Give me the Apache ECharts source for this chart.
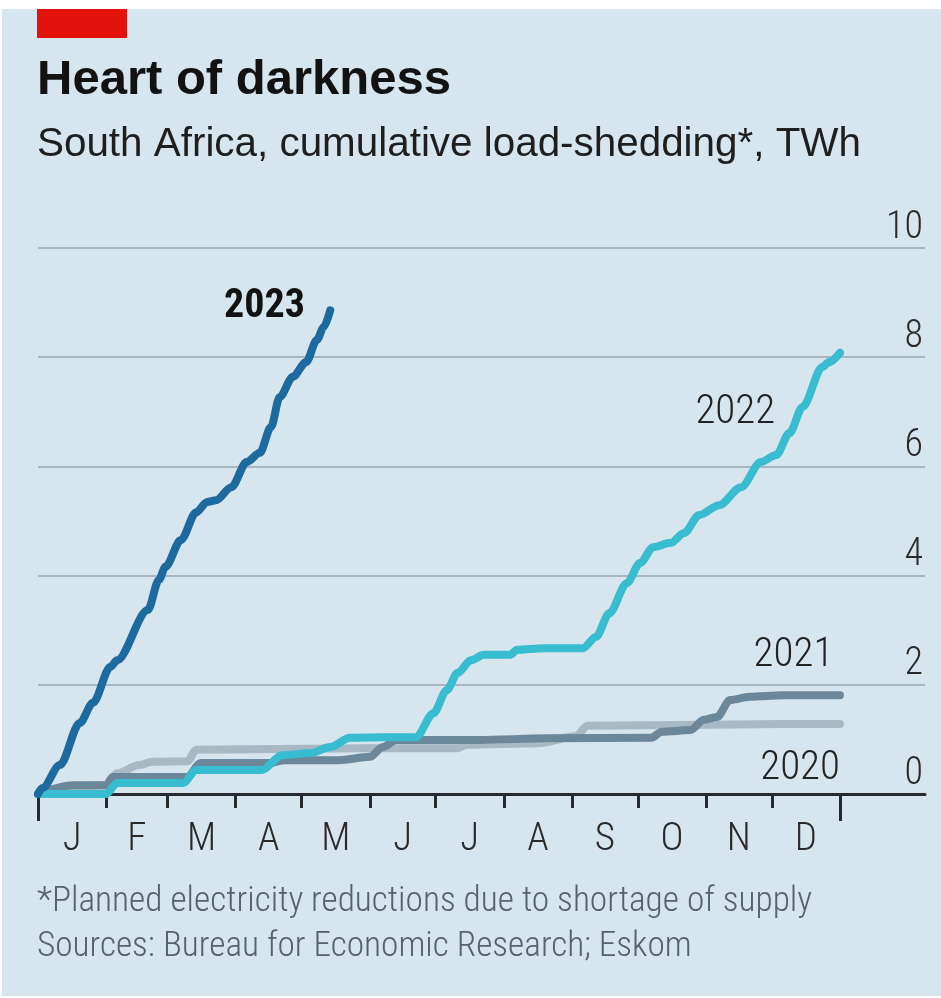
<!DOCTYPE html>
<html>
<head>
<meta charset="utf-8">
<script src="https://cdn.jsdelivr.net/npm/echarts@6/dist/echarts.min.js"></script>
<style>
  html, body { margin: 0; padding: 0; background: #ffffff; }
  #chart { width: 941px; height: 998px; }
</style>
</head>
<body>
<div id="chart"></div>
<script>
// Month axis: day-of-year boundaries and the letters shown between them
const monthLetters = ['J', 'F', 'M', 'A', 'M', 'J', 'J', 'A', 'S', 'O', 'N', 'D'];
const monthStarts = [0, 31, 59, 90, 120, 151, 181, 212, 243, 273, 304, 334, 365];
const yTickValues = [0, 2, 4, 6, 8, 10];

// Cumulative load-shedding, TWh, by day of year
const days2023 = [0, 2, 10, 19, 25, 33, 36, 50, 55, 58, 65, 72, 77, 81, 88, 95, 101, 106, 110, 116, 122, 127, 130, 133];
const twh2023 = [0, 0.11, 0.53, 1.30, 1.67, 2.33, 2.45, 3.37, 3.92, 4.16, 4.65, 5.16, 5.35, 5.38, 5.62, 6.08, 6.25, 6.72, 7.27, 7.64, 7.91, 8.32, 8.55, 8.86];

const days2022 = [0, 31, 36, 66, 72, 102, 111, 124, 133, 142, 156, 172, 180, 186, 191, 197, 203, 215, 218, 230, 248, 254, 260, 268, 274, 280, 288, 294, 301, 310, 320, 329, 336, 342, 348, 357, 360, 365];
const twh2022 = [0, 0, 0.2, 0.2, 0.44, 0.44, 0.71, 0.75, 0.86, 1.03, 1.04, 1.04, 1.48, 1.90, 2.22, 2.45, 2.55, 2.55, 2.64, 2.67, 2.67, 2.88, 3.31, 3.86, 4.23, 4.52, 4.60, 4.78, 5.11, 5.29, 5.62, 6.08, 6.21, 6.61, 7.09, 7.82, 7.91, 8.08];

const days2021 = [0, 16, 31, 34, 68, 74, 106, 112, 137, 151, 157, 163, 201, 232, 279, 284, 297, 303, 309, 315, 324, 339, 365];
const twh2021 = [0, 0.16, 0.16, 0.31, 0.31, 0.57, 0.57, 0.62, 0.62, 0.68, 0.86, 0.99, 0.99, 1.02, 1.03, 1.14, 1.17, 1.36, 1.41, 1.72, 1.78, 1.81, 1.81];

const days2020 = [0, 16, 31, 36, 46, 52, 68, 72, 148, 191, 195, 228, 245, 250, 339, 365];
const twh2020 = [0, 0.12, 0.16, 0.38, 0.53, 0.59, 0.60, 0.81, 0.84, 0.84, 0.90, 0.93, 1.06, 1.25, 1.28, 1.28];

const zip = (xs, ys) => xs.map((x, i) => [x, ys[i]]);
const monthMids = monthStarts.slice(0, -1).map((d, i) => (d + monthStarts[i + 1]) / 2);

const SANS = "'Liberation Sans', Arial, sans-serif";
const NARROW = "'Roboto Condensed', 'DejaVu Sans Condensed', 'Liberation Sans', sans-serif";
const INK = '#262a2e';

function yearLine(name, data, color, label) {
  return {
    name: name,
    type: 'line',
    data: data,
    showSymbol: false,
    smooth: 0.3,
    smoothMonotone: 'x',
    lineStyle: { color: color, width: 8, cap: 'round', join: 'round' },
    emphasis: { disabled: true },
    markPoint: {
      symbol: 'circle',
      symbolSize: 0,
      silent: true,
      animation: false,
      label: {
        show: true,
        position: [0, 0],
        align: 'right',
        verticalAlign: 'middle',
        formatter: name,
        fontFamily: NARROW,
        fontSize: label.size,
        fontWeight: label.weight,
        color: label.color
      },
      data: [{ coord: label.at }]
    }
  };
}

const chart = echarts.init(document.getElementById('chart'), null, { renderer: 'canvas' });

chart.setOption({
  animation: false,
  backgroundColor: '#ffffff',
  graphic: [
    { type: 'rect', z: -10, shape: { x: 2, y: 9, width: 939, height: 987 }, style: { fill: '#d6e5ee' } },
    { type: 'rect', shape: { x: 37, y: 9, width: 90, height: 29 }, style: { fill: '#e3120b' } },
    { type: 'text', x: 37, y: 80, style: { text: 'Heart of darkness', fontFamily: SANS, fontWeight: 'bold', fontSize: 49, fill: '#121212', verticalAlign: 'middle' } },
    { type: 'text', x: 37, y: 145, style: { text: 'South Africa, cumulative load-shedding*, TWh', fontFamily: SANS, fontSize: 40.4, fill: '#1e1e1e', verticalAlign: 'middle' } },
    { type: 'text', x: 37, y: 902, style: { text: '*Planned electricity reductions due to shortage of supply', fontFamily: NARROW, fontWeight: 300, fontSize: 35.3, fill: '#56626b', verticalAlign: 'middle' } },
    { type: 'text', x: 37, y: 947, style: { text: 'Sources: Bureau for Economic Research; Eskom', fontFamily: NARROW, fontWeight: 300, fontSize: 35.3, fill: '#56626b', verticalAlign: 'middle' } }
  ],
  grid: { left: 38, right: 16, top: 248, bottom: 204, containLabel: false },
  xAxis: [
    {
      type: 'value', min: 0, max: 403.7,
      axisLine: { show: true, lineStyle: { color: INK, width: 3 } },
      axisTick: { show: true, customValues: monthStarts.slice(1, -1), length: 14, lineStyle: { color: INK, width: 3 } },
      axisLabel: {
        customValues: monthMids,
        formatter: v => monthLetters[monthMids.indexOf(v)],
        margin: 31, lineHeight: 30, verticalAlign: 'top',
        fontFamily: NARROW, fontWeight: 300, fontSize: 39, color: '#2a2a2a'
      },
      splitLine: { show: false }
    },
    {
      type: 'value', min: 0, max: 403.7, position: 'bottom',
      axisLine: { show: false },
      axisTick: { show: true, customValues: [monthStarts[0], monthStarts[12]], length: 27, lineStyle: { color: INK, width: 3 } },
      axisLabel: { show: false },
      splitLine: { show: false }
    }
  ],
  yAxis: {
    type: 'value', position: 'right',
    min: yTickValues[0], max: yTickValues[yTickValues.length - 1], interval: 2,
    axisLine: { show: false },
    axisTick: { show: false },
    splitLine: { show: true, lineStyle: { color: '#a6b5bf', width: 2 } },
    axisLabel: {
      inside: true, margin: 2, verticalAlign: 'bottom', lineHeight: 30, padding: [0, 0, 5, 0],
      fontFamily: NARROW, fontWeight: 300, fontSize: 38, color: '#2a2a2a'
    }
  },
  series: [
    yearLine('2020', zip(days2020, twh2020), '#a9b9c4', { at: [365, 0.47], size: 41, weight: 300, color: '#222222' }),
    yearLine('2021', zip(days2021, twh2021), '#6b8799', { at: [362, 2.53], size: 41, weight: 300, color: '#222222' }),
    yearLine('2022', zip(days2022, twh2022), '#38bccf', { at: [335.5, 6.98], size: 41, weight: 300, color: '#222222' }),
    yearLine('2023', zip(days2023, twh2023), '#1d6a9e', { at: [121.5, 8.92], size: 40, weight: 'bold', color: '#121212' })
  ]
});
</script>
</body>
</html>
